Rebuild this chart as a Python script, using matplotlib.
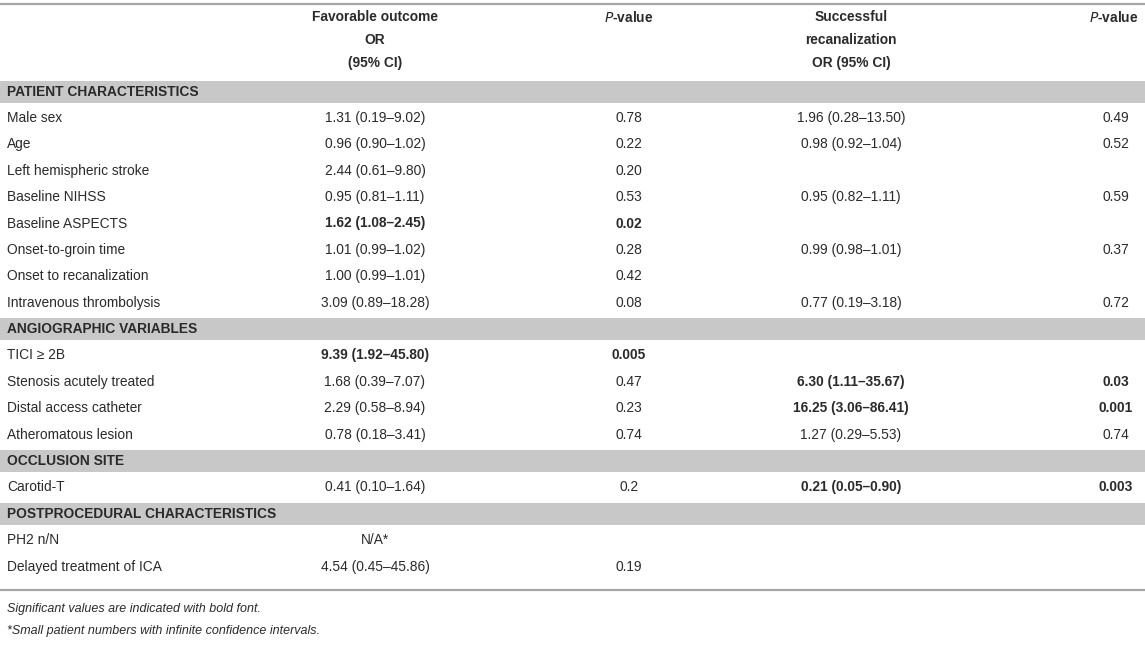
import matplotlib.pyplot as plt
from matplotlib.patches import Rectangle

plt.rcParams['font.family'] = ['Liberation Sans', 'DejaVu Sans']

# table content
sections = ['PATIENT CHARACTERISTICS', 'ANGIOGRAPHIC VARIABLES',
            'OCCLUSION SITE', 'POSTPROCEDURAL CHARACTERISTICS']

row_section = [0, 0, 0, 0, 0, 0, 0, 0, 1, 1, 1, 1, 2, 3, 3]
variables = ['Male sex', 'Age', 'Left hemispheric stroke', 'Baseline NIHSS',
             'Baseline ASPECTS', 'Onset-to-groin time', 'Onset to recanalization',
             'Intravenous thrombolysis', 'TICI \u2265 2B', 'Stenosis acutely treated',
             'Distal access catheter', 'Atheromatous lesion', 'Carotid-T',
             'PH2 n/N', 'Delayed treatment of ICA']
fav_or = ['1.31 (0.19\u20139.02)', '0.96 (0.90\u20131.02)', '2.44 (0.61\u20139.80)',
          '0.95 (0.81\u20131.11)', '1.62 (1.08\u20132.45)', '1.01 (0.99\u20131.02)',
          '1.00 (0.99\u20131.01)', '3.09 (0.89\u201318.28)', '9.39 (1.92\u201345.80)',
          '1.68 (0.39\u20137.07)', '2.29 (0.58\u20138.94)', '0.78 (0.18\u20133.41)',
          '0.41 (0.10\u20131.64)', 'N/A*', '4.54 (0.45\u201345.86)']
fav_p = ['0.78', '0.22', '0.20', '0.53', '0.02', '0.28', '0.42', '0.08',
         '0.005', '0.47', '0.23', '0.74', '0.2', '', '0.19']
rec_or = ['1.96 (0.28\u201313.50)', '0.98 (0.92\u20131.04)', '', '0.95 (0.82\u20131.11)',
          '', '0.99 (0.98\u20131.01)', '', '0.77 (0.19\u20133.18)', '',
          '6.30 (1.11\u201335.67)', '16.25 (3.06\u201386.41)', '1.27 (0.29\u20135.53)',
          '0.21 (0.05\u20130.90)', '', '']
rec_p = ['0.49', '0.52', '', '0.59', '', '0.37', '', '0.72', '',
         '0.03', '0.001', '0.74', '0.003', '', '']
fav_bold = [4, 8]
rec_bold = [9, 10, 12]

footnotes = ['Significant values are indicated with bold font.',
             '*Small patient numbers with infinite confidence intervals.']

W, H = 1145, 645
fig = plt.figure(figsize=(W / 100, H / 100), dpi=100)
ax = fig.add_axes([0, 0, 1, 1])
ax.set_xlim(0, W)
ax.set_ylim(H, 0)
ax.axis('off')

fs = 9.9
txt = '#2a2a2a'
band_col = '#c8c8c8'

x_lab = 7
x_fav = 375
x_p1 = 629
x_rec = 851
x_p2 = 1116

# header
ax.plot([0, W], [4, 4], color='#a5a5a5', lw=1.6)
ax.text(x_fav, 17, 'Favorable outcome', ha='center', va='center', fontsize=fs, weight='bold', color=txt)
ax.text(x_fav, 40, 'OR', ha='center', va='center', fontsize=fs, weight='bold', color=txt)
ax.text(x_fav, 63, '(95% CI)', ha='center', va='center', fontsize=fs, weight='bold', color=txt)
ax.text(x_p1, 17, r'$\bf{\it{P}}$-value', ha='center', va='center', fontsize=fs, weight='bold', color=txt)
ax.text(x_rec, 17, 'Successful', ha='center', va='center', fontsize=fs, weight='bold', color=txt)
ax.text(x_rec, 40, 'recanalization', ha='center', va='center', fontsize=fs, weight='bold', color=txt)
ax.text(x_rec, 63, 'OR (95% CI)', ha='center', va='center', fontsize=fs, weight='bold', color=txt)
ax.text(x_p2 - 2, 17, r'$\bf{\it{P}}$-value', ha='center', va='center', fontsize=fs, weight='bold', color=txt)

step = 26.4
y = 91.5
prev = -1
for i, var in enumerate(variables):
    if row_section[i] != prev:
        prev = row_section[i]
        ax.add_patch(Rectangle((0, y - 11), W, 22, color=band_col, lw=0))
        ax.text(x_lab, y, sections[prev], ha='left', va='center', fontsize=fs,
                weight='bold', color=txt)
        y += step
    ax.text(x_lab, y, var, ha='left', va='center', fontsize=fs, color=txt)
    wf = 'bold' if i in fav_bold else 'normal'
    wr = 'bold' if i in rec_bold else 'normal'
    ax.text(x_fav, y, fav_or[i], ha='center', va='center', fontsize=fs, weight=wf, color=txt)
    ax.text(x_p1, y, fav_p[i], ha='center', va='center', fontsize=fs, weight=wf, color=txt)
    ax.text(x_rec, y, rec_or[i], ha='center', va='center', fontsize=fs, weight=wr, color=txt)
    ax.text(x_p2, y, rec_p[i], ha='center', va='center', fontsize=fs, weight=wr, color=txt)
    y += step

ax.plot([0, W], [590, 590], color='#a5a5a5', lw=1.6)
ax.text(x_lab, 609, footnotes[0], ha='left', va='center', fontsize=9.0, style='italic', color=txt)
ax.text(x_lab, 631, footnotes[1], ha='left', va='center', fontsize=9.0, style='italic', color=txt)

fig.savefig('out.png', dpi=100)
